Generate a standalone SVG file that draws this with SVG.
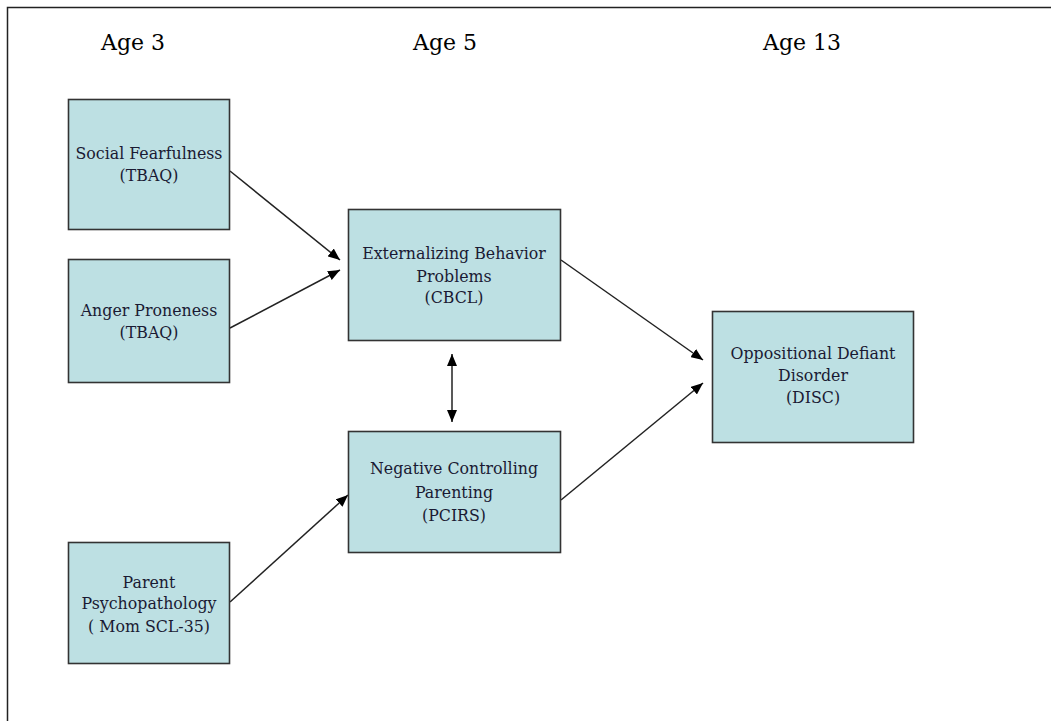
<svg xmlns="http://www.w3.org/2000/svg" width="1051" height="721" viewBox="0 0 1051 721">
<defs>
<style>
.box{fill:#bde0e3;stroke:#333;stroke-width:1.6}
.t{font-family:"DejaVu Serif","Liberation Serif",serif;font-size:15.8px;fill:#1a1a33;text-anchor:middle}
.age{font-family:"DejaVu Serif","Liberation Serif",serif;font-size:22px;fill:#000;text-anchor:middle}
.c{stroke:#222;stroke-width:1.5;fill:none}
</style>
<marker id="ah" viewBox="0 0 12 10" refX="12" refY="5" markerWidth="12" markerHeight="10" markerUnits="userSpaceOnUse" orient="auto-start-reverse">
<path d="M0,0 L12,5 L0,10 Z" fill="#000"/>
</marker>
</defs>
<rect x="0" y="0" width="1051" height="721" fill="#fff"/>
<path d="M7.5,721 V7.5 H1051" fill="none" stroke="#222" stroke-width="1.5"/>
<g id="age-labels">
<text class="age" x="133" y="50">Age 3</text>
<text class="age" x="445" y="50">Age 5</text>
<text class="age" x="802" y="50">Age 13</text>
</g>
<g id="connectors">
<line class="c" x1="230" y1="171" x2="340" y2="260" marker-end="url(#ah)"/>
<line class="c" x1="230" y1="328" x2="340" y2="270" marker-end="url(#ah)"/>
<line class="c" x1="230" y1="602" x2="348" y2="495" marker-end="url(#ah)"/>
<line class="c" x1="452" y1="354" x2="452" y2="422" marker-start="url(#ah)" marker-end="url(#ah)"/>
<line class="c" x1="561" y1="260" x2="703" y2="360" marker-end="url(#ah)"/>
<line class="c" x1="561" y1="500" x2="703" y2="383" marker-end="url(#ah)"/>
</g>
<g id="social-fearfulness">
<rect class="box" x="68.5" y="99.5" width="161" height="130"/>
<text class="t" x="149" y="158.5">Social Fearfulness</text>
<text class="t" x="149" y="180.5">(TBAQ)</text>
</g>
<g id="anger-proneness">
<rect class="box" x="68.5" y="259.5" width="161" height="123"/>
<text class="t" x="149" y="315.5">Anger Proneness</text>
<text class="t" x="149" y="337.5">(TBAQ)</text>
</g>
<g id="parent-psychopathology">
<rect class="box" x="68.5" y="542.5" width="161" height="121"/>
<text class="t" x="149" y="587.5">Parent</text>
<text class="t" x="149" y="608.5">Psychopathology</text>
<text class="t" x="149" y="631.5">( Mom SCL-35)</text>
</g>
<g id="externalizing">
<rect class="box" x="348.5" y="209.5" width="212" height="131"/>
<text class="t" x="454" y="258.5">Externalizing Behavior</text>
<text class="t" x="454" y="281.5">Problems</text>
<text class="t" x="454" y="302.5">(CBCL)</text>
</g>
<g id="negative-controlling">
<rect class="box" x="348.5" y="431.5" width="212" height="121"/>
<text class="t" x="454" y="473.5">Negative Controlling</text>
<text class="t" x="454" y="497.5">Parenting</text>
<text class="t" x="454" y="520.5">(PCIRS)</text>
</g>
<g id="odd">
<rect class="box" x="712.5" y="311.5" width="201" height="131"/>
<text class="t" x="813" y="358.5">Oppositional Defiant</text>
<text class="t" x="813" y="380.5">Disorder</text>
<text class="t" x="813" y="402.5">(DISC)</text>
</g>
</svg>
